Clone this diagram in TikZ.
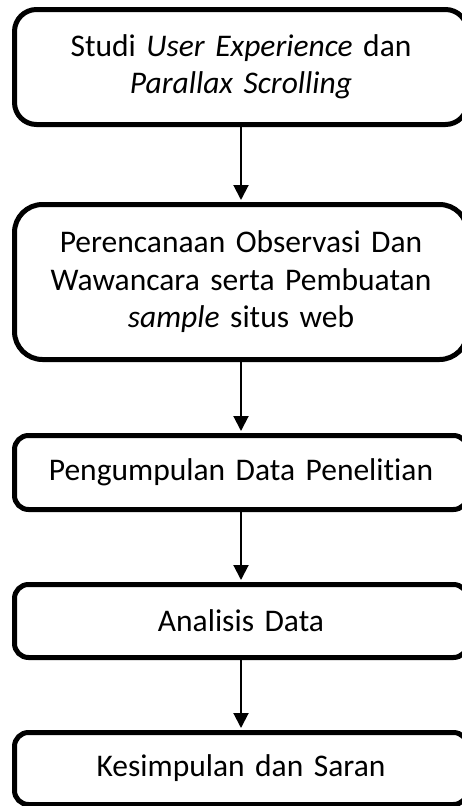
\documentclass[tikz,border=0pt]{standalone}
\usepackage{fontspec}
\setmainfont{Carlito}[Ligatures=NoCommon]
\usetikzlibrary{arrows.meta}

\begin{document}
\begin{tikzpicture}[x=1pt, y=-1pt, line width=2pt,
    box/.style={draw, line width=5pt, rounded corners=#1, minimum width=453pt,
      inner sep=0pt, text width=440pt, align=center,
      font=\fontsize{31.5}{37.5}\selectfont},
    box/.default=14pt,
    flow/.style={-{Triangle[width=15pt,length=15pt]}, shorten >=2pt}]
  \useasboundingbox (0,0) rectangle (461,806);
  \node[box=22pt, minimum height=115pt] (studi) at (241,67)
    {Studi \textit{User Experience} dan\\ \textit{Parallax Scrolling}};
  \node[box=28pt, minimum height=155pt] (rencana) at (241,282)
    {Perencanaan Observasi Dan\\ Wawancara serta Pembuatan\\ \textit{sample} situs web};
  \node[box, minimum height=74pt] (kumpul) at (241,472.5) {Pengumpulan Data Penelitian};
  \node[box, minimum height=73pt] (analisis) at (241,621) {Analisis Data};
  \node[box, minimum height=72pt] (simpul) at (241,768.5) {Kesimpulan dan Saran};
  \draw[flow] (studi) -- (rencana);
  \draw[flow] (rencana) -- (kumpul);
  \draw[flow] (kumpul) -- (analisis);
  \draw[flow] (analisis) -- (simpul);
\end{tikzpicture}
\end{document}
